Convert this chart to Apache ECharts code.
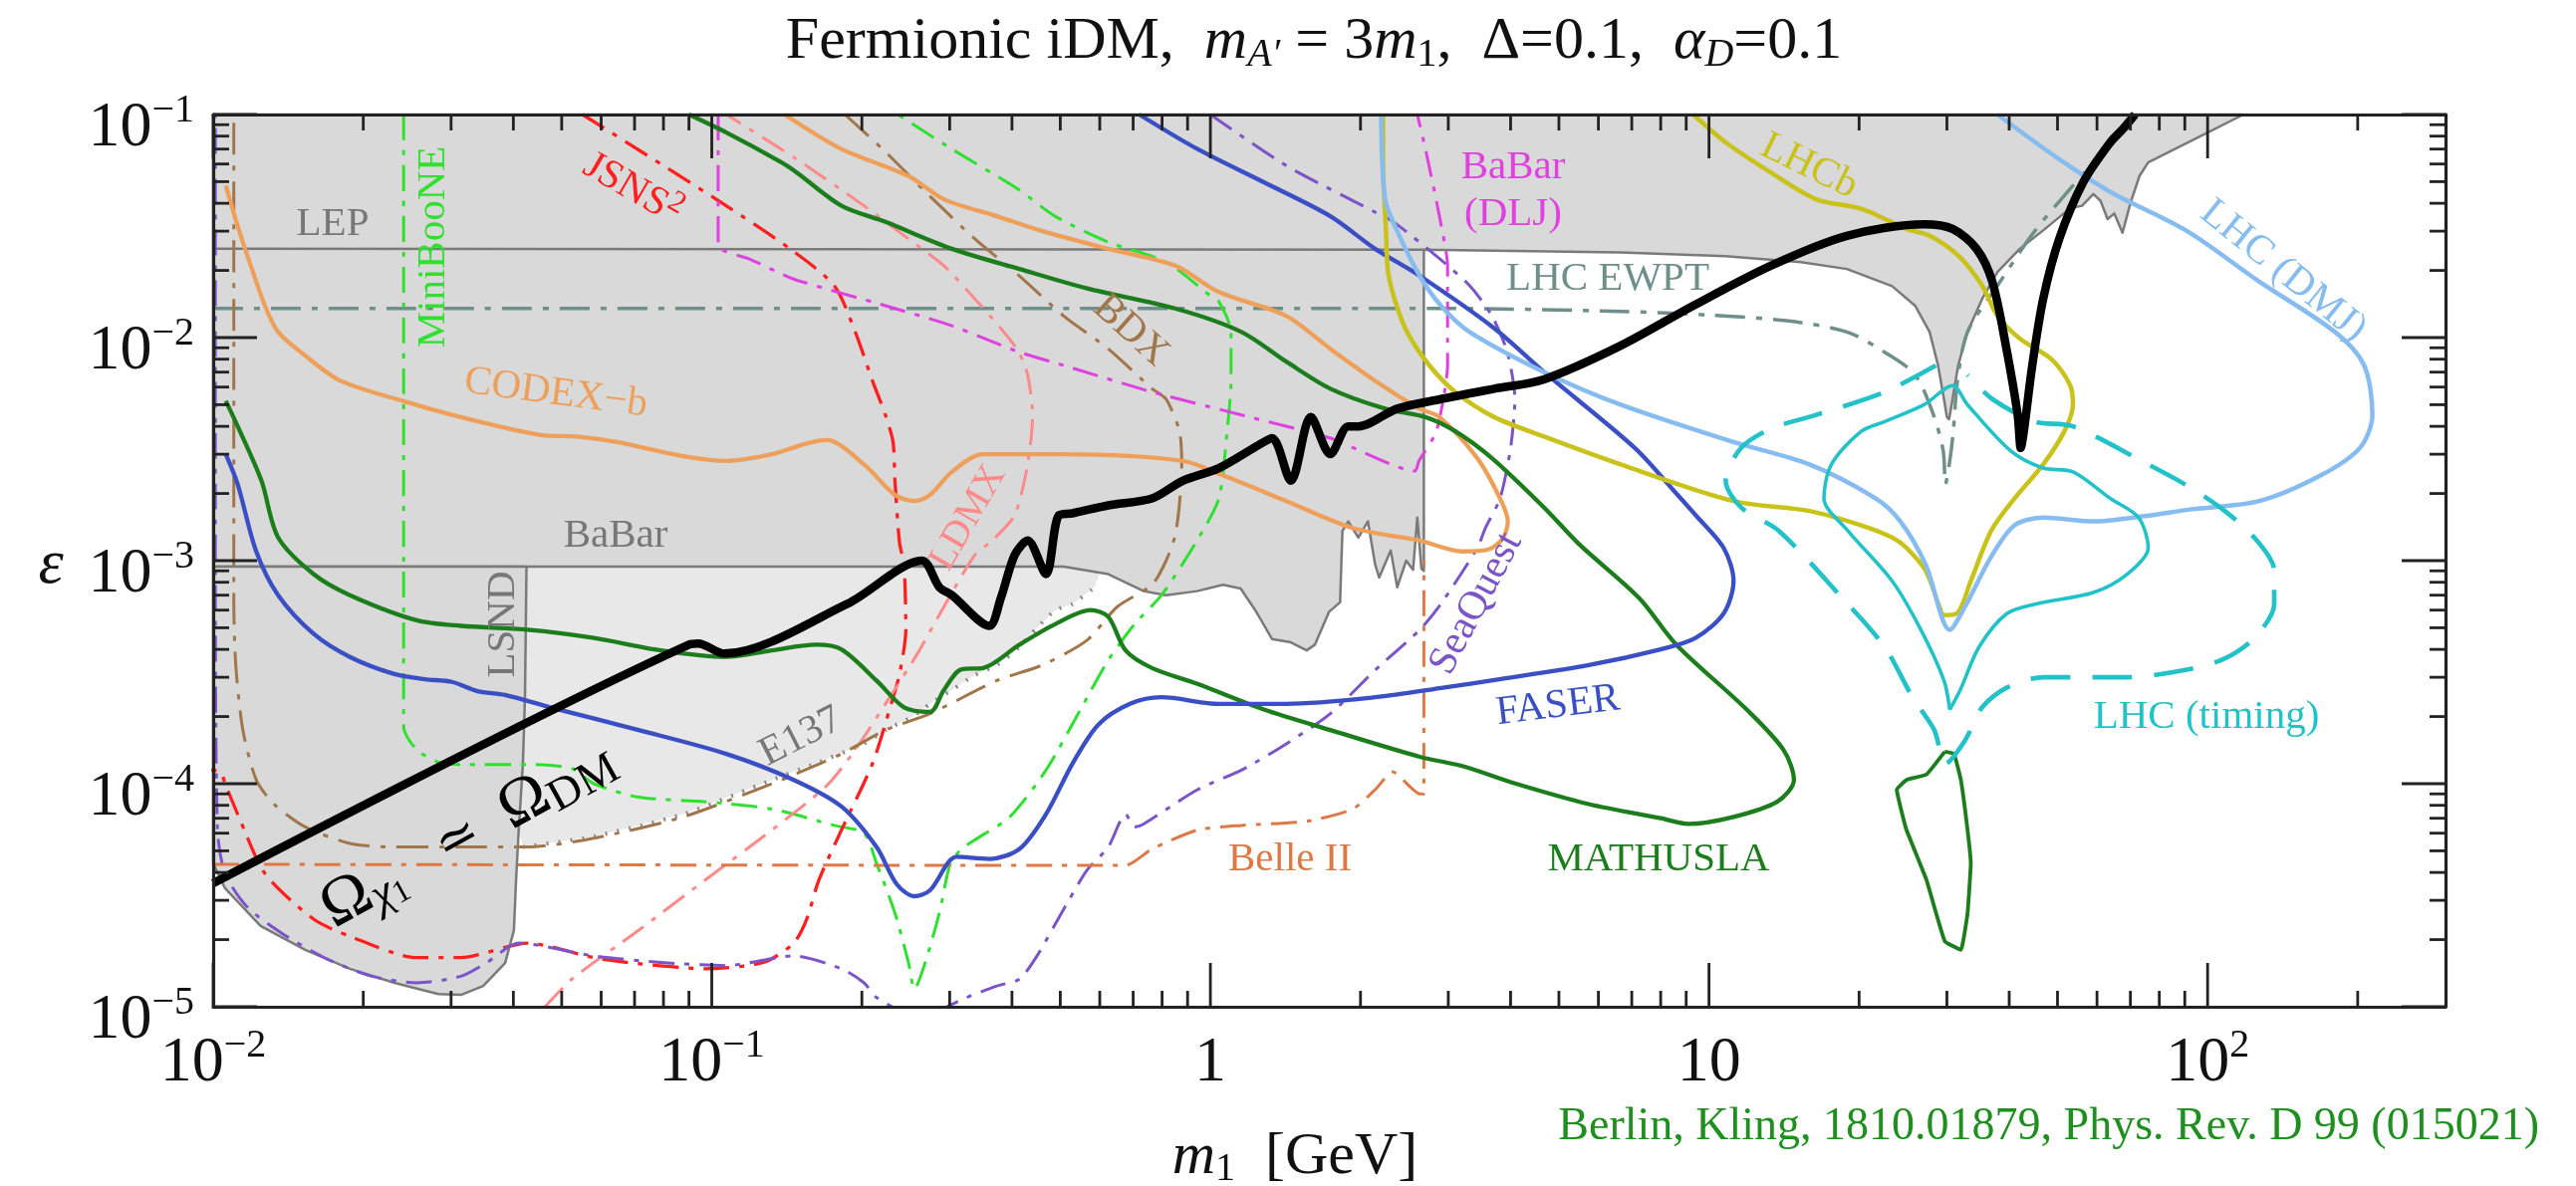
<!DOCTYPE html>
<html><head><meta charset="utf-8">
<script src="https://cdn.jsdelivr.net/npm/echarts@6/dist/echarts.min.js"></script>
<style>html,body{margin:0;padding:0;background:#fff}#c{width:2586px;height:1191px}</style>
</head><body><div id="c"></div>
<script>
// ---------- axis ticks ----------
const X_MAJOR = [0.01, 0.1, 1, 10, 100];
const Y_MAJOR = [1e-5, 1e-4, 1e-3, 1e-2, 1e-1];

// ---------- excluded regions (m1 [GeV], epsilon) ----------
const Z_RIGHT = [[118,0.1],[100,8.3e-2],[76,6.1e-2],[73,5.3e-2],[70,4.0e-2],[67.5,2.95e-2],[65,3.6e-2],[63,3.4e-2],[61,4.1e-2],[59,4.4e-2],[56,3.9e-2],[53,3.8e-2],[46.6,3.0e-2],[42,2.5e-2],[37.9,1.97e-2],[35.3,1.49e-2],[33,1.06e-2],[31.6,7.5e-3],[30.8,5.3e-3],[30.3,4.3e-3]];
const Z_LEFT = [[30.0,4.4e-3],[29.6,5.3e-3],[28.8,7.5e-3],[27.7,1.06e-2],[25.9,1.39e-2],[23.3,1.7e-2],[18.9,2.03e-2],[15.3,2.18e-2],[10.8,2.32e-2],[6.65,2.41e-2]];
const LEP = [[0.01,2.5e-2],[2.68,2.48e-2]];
const BABAR_EDGE = [[2.68,2.48e-2],[2.68,9.0e-4],[2.65,9.2e-4],[2.60,1.56e-3],[2.55,9.1e-4],[2.47,1.0e-3],[2.37,7.6e-4],[2.30,1.11e-3],[2.18,8.4e-4],[2.14,9.6e-4],[2.07,1.5e-3],[1.98,1.27e-3],[1.89,1.5e-3],[1.84,1.36e-3],[1.82,6.5e-4],[1.73,5.9e-4],[1.62,4.2e-4],[1.56,3.96e-4],[1.45,4.3e-4],[1.33,4.45e-4],[1.23,6.0e-4],[1.15,7.5e-4],[1.06,7.8e-4],[0.94,7.3e-4],[0.815,7.0e-4],[0.735,7.3e-4],[0.624,8.7e-4],[0.508,9.4e-4],[0.01,9.4e-4]];
const LSND_EDGE = [[0.0425,9.4e-4],[0.0422,2.44e-4],[0.0418,1.23e-4],[0.041,6.2e-5],[0.0405,3.7e-5],[0.0401,2.2e-5],[0.0385,1.57e-5],[0.0348,1.24e-5],[0.0314,1.13e-5],[0.0283,1.14e-5],[0.0231,1.28e-5],[0.0188,1.48e-5],[0.0153,1.8e-5],[0.01245,2.3e-5],[0.01056,3.4e-5],[0.01,4.4e-5]];
const E137 = [[0.0418,5.2e-5],[0.058,5.8e-5],[0.0877,7.3e-5],[0.132,1.04e-4],[0.161,1.23e-4],[0.202,1.51e-4],[0.223,1.74e-4],[0.253,2.0e-4],[0.274,2.28e-4],[0.303,2.63e-4],[0.337,3.07e-4],[0.373,3.4e-4],[0.414,4.1e-4],[0.449,5.0e-4],[0.489,6.0e-4],[0.529,6.4e-4],[0.586,7.6e-4]];

// ---------- projected sensitivities ----------
const LHC_EWPT = [[0.01,1.35e-2],[3,1.35e-2],[6.65,1.31e-2],[10.1,1.26e-2],[14.3,1.19e-2],[18.9,1.06e-2],[22.5,8.6e-3],[25.9,6.8e-3],[28.2,4.5e-3],[29.5,3.1e-3],[29.8,2.2e-3],[30.4,2.8e-3],[30.9,3.8e-3],[31.5,6.4e-3],[33,1.06e-2],[37.9,1.71e-2],[45,3.0e-2],[53.7,4.8e-2],[63.8,7.5e-2],[71,0.1]];
const MINIBOONE = [[0.0241,0.1],[0.0241,1.8e-4],[0.0256,1.42e-4],[0.0289,1.23e-4],[0.0314,1.22e-4],[0.0427,1.22e-4],[0.0524,1.17e-4],[0.058,1.0e-4],[0.0713,8.7e-5],[0.097,8.3e-5],[0.132,7.7e-5],[0.176,6.5e-5],[0.202,6.0e-5],[0.214,4.4e-5],[0.233,2.63e-5],[0.248,1.58e-5],[0.255,1.2e-5],[0.268,1.58e-5],[0.286,2.63e-5],[0.301,4.4e-5],[0.317,5.1e-5],[0.337,5.6e-5],[0.396,7.1e-5],[0.468,1.15e-4],[0.552,2.2e-4],[0.624,3.58e-4],[0.705,5.2e-4],[0.798,7.0e-4],[0.94,1.23e-3],[1.04,1.9e-3],[1.08,3.8e-3],[1.1,6.4e-3],[1.1,1.06e-2],[1.04,1.45e-2],[1.0,1.54e-2],[0.815,2.18e-2],[0.624,2.68e-2],[0.488,3.5e-2],[0.413,4.6e-2],[0.303,7.0e-2],[0.236,0.1]];
const JSNS2 = [[0.055,0.1],[0.058,9.3e-2],[0.105,4.0e-2],[0.1435,2.5e-2],[0.176,1.71e-2],[0.194,1.06e-2],[0.21,6.4e-3],[0.223,4.5e-3],[0.231,3.4e-3],[0.233,2.28e-3],[0.238,1.2e-3],[0.243,9.6e-4],[0.245,4.9e-4],[0.238,3.1e-4],[0.229,2.28e-4],[0.21,1.23e-4],[0.182,6.2e-5],[0.164,3.7e-5],[0.155,2.47e-5],[0.146,1.93e-5],[0.127,1.58e-5],[0.097,1.48e-5],[0.0713,1.56e-5],[0.058,1.66e-5],[0.0427,1.93e-5],[0.0314,1.66e-5],[0.0256,1.66e-5],[0.0188,2.07e-5],[0.0159,2.47e-5],[0.0127,3.96e-5],[0.0112,7.3e-5],[0.01057,1.0e-4],[0.01035,1.13e-4],[0.0099,1.15e-4]];
const LDMX = [[0.0463,1.0e-5],[0.0524,1.33e-5],[0.0713,2.2e-5],[0.097,3.7e-5],[0.132,6.2e-5],[0.17,9.8e-5],[0.194,1.42e-4],[0.223,2.28e-4],[0.258,3.8e-4],[0.292,6.2e-4],[0.337,1.06e-3],[0.365,1.23e-3],[0.405,1.6e-3],[0.43,2.7e-3],[0.44,4.5e-3],[0.43,6.8e-3],[0.413,8.6e-3],[0.38,1.1e-2],[0.337,1.49e-2],[0.292,2.1e-2],[0.248,2.77e-2],[0.202,3.9e-2],[0.148,6.3e-2],[0.107,0.1]];
const BDX = [[0.185,0.1],[0.223,6.8e-2],[0.274,4.3e-2],[0.337,2.77e-2],[0.414,1.89e-2],[0.508,1.25e-2],[0.624,8.9e-3],[0.764,5.9e-3],[0.815,5.3e-3],[0.867,3.8e-3],[0.876,2.7e-3],[0.867,1.8e-3],[0.85,1.3e-3],[0.815,1.0e-3],[0.764,7.8e-4],[0.65,6.2e-4],[0.566,4.4e-4],[0.46,3.4e-4],[0.373,2.9e-4],[0.274,2.06e-4],[0.223,1.74e-4],[0.182,1.36e-4],[0.148,1.11e-4],[0.132,1.0e-4],[0.0877,7.1e-5],[0.058,5.7e-5],[0.0427,5.2e-5],[0.0314,5.2e-5],[0.0231,5.2e-5],[0.0188,5.4e-5],[0.0153,6.4e-5],[0.01324,8.1e-5],[0.0122,1.04e-4],[0.01147,1.74e-4],[0.0111,3.4e-4],[0.011,6.8e-4],[0.011,0.1]];
const BABAR_DLJ = [[0.103,0.1],[0.103,2.58e-2],[0.119,2.25e-2],[0.146,1.83e-2],[0.223,1.39e-2],[0.303,1.13e-2],[0.414,8.6e-3],[0.508,7.5e-3],[0.764,5.7e-3],[1.154,4.5e-3],[1.74,3.54e-3],[2.57,2.52e-3],[2.62,2.8e-3],[2.84,3.8e-3],[2.99,7.5e-3],[2.99,2.1e-2],[2.88,3.5e-2],[2.7,7e-2],[2.6,0.1]];
const SEAQUEST = [[1.0,0.1],[1.42,5.9e-2],[2.14,3.65e-2],[2.33,3.3e-2],[2.88,2.26e-2],[3.31,1.71e-2],[3.67,1.25e-2],[3.94,8.6e-3],[4.08,5.3e-3],[4.0,3.2e-3],[3.81,1.9e-3],[3.56,1.4e-3],[3.43,1.14e-3],[2.9,6.4e-4],[2.63,4.9e-4],[2.14,3.23e-4],[1.74,2.06e-4],[1.42,1.51e-4],[1.154,1.15e-4],[0.942,9.4e-5],[0.735,6.6e-5],[0.705,6.4e-5],[0.676,7.3e-5],[0.624,5.2e-5],[0.566,4.1e-5],[0.508,2.74e-5],[0.449,1.69e-5],[0.414,1.33e-5],[0.373,1.24e-5],[0.324,1.1e-5],[0.26,9.0e-6],[0.214,1.1e-5],[0.202,1.28e-5],[0.182,1.48e-5],[0.146,1.69e-5],[0.107,1.53e-5],[0.079,1.58e-5],[0.058,1.69e-5],[0.041,1.93e-5],[0.0354,1.58e-5],[0.0314,1.37e-5],[0.0256,1.28e-5],[0.0208,1.37e-5],[0.0169,1.64e-5],[0.0138,2.12e-5],[0.0117,2.8e-5],[0.01056,3.96e-5],[0.0102,6.2e-5],[0.0101,1e-3],[0.0101,0.1]];
const BELLE2 = [[0.01,4.35e-5],[0.676,4.3e-5],[0.764,5.1e-5],[0.942,6.2e-5],[1.154,6.5e-5],[1.57,6.8e-5],[1.93,7.7e-5],[2.14,9.4e-5],[2.32,1.13e-4],[2.63,9.0e-5],[2.68,9.0e-5],[2.68,1.0e-3]];
const CODEXB = [[0.0106,4.8e-2],[0.0112,3.16e-2],[0.0119,2.1e-2],[0.0127,1.39e-2],[0.0135,1.06e-2],[0.0153,8.3e-3],[0.018,6.4e-3],[0.024,5.2e-3],[0.0314,4.4e-3],[0.0454,3.66e-3],[0.0535,3.6e-3],[0.0645,3.4e-3],[0.0876,2.94e-3],[0.107,2.8e-3],[0.132,3.0e-3],[0.155,3.35e-3],[0.17,3.47e-3],[0.202,2.7e-3],[0.233,1.97e-3],[0.255,1.85e-3],[0.274,1.97e-3],[0.303,2.5e-3],[0.35,3.0e-3],[0.508,3.0e-3],[0.88,2.8e-3],[1.064,2.4e-3],[1.42,1.85e-3],[1.93,1.4e-3],[2.63,1.23e-3],[3.2,1.1e-3],[3.6,1.12e-3],[3.85,1.25e-3],[3.95,1.5e-3],[3.81,1.9e-3],[3.43,2.88e-3],[2.88,4.4e-3],[2.63,4.8e-3],[2.14,6.4e-3],[1.74,8.9e-3],[1.42,1.25e-2],[1.04,1.6e-2],[0.85,2.1e-2],[0.624,2.5e-2],[0.46,3.0e-2],[0.373,3.5e-2],[0.292,4.17e-2],[0.248,5.3e-2],[0.182,7.0e-2],[0.14,0.1]];
const MATHUSLA = [[0.0106,5.2e-3],[0.0112,4.0e-3],[0.0125,2.28e-3],[0.0135,1.27e-3],[0.0159,8.7e-4],[0.0188,7.0e-4],[0.0256,5.4e-4],[0.0314,5.1e-4],[0.0427,4.9e-4],[0.058,4.5e-4],[0.079,3.96e-4],[0.107,3.7e-4],[0.132,3.96e-4],[0.162,4.2e-4],[0.182,4.0e-4],[0.214,2.9e-4],[0.243,2.2e-4],[0.274,2.1e-4],[0.292,2.63e-4],[0.317,3.26e-4],[0.35,3.3e-4],[0.414,4.2e-4],[0.489,5.2e-4],[0.575,6.0e-4],[0.624,5.6e-4],[0.676,3.96e-4],[0.764,3.3e-4],[0.942,2.8e-4],[1.28,2.15e-4],[1.74,1.74e-4],[2.63,1.32e-4],[3.2,1.2e-4],[4.1,1.0e-4],[5.74,8.1e-5],[8.0,7.0e-5],[9.1,6.6e-5],[11.2,7.1e-5],[13.7,8.3e-5],[14.8,1.04e-4],[14.1,1.42e-4],[11.9,2.15e-4],[8.6,4.2e-4],[7.24,6.8e-4],[5.5,1.18e-3],[4.67,1.73e-3],[3.67,2.88e-3],[3.1,3.8e-3],[2.7,4.4e-3],[2.24,4.8e-3],[1.74,5.9e-3],[1.42,7.8e-3],[1.154,1.06e-2],[0.85,1.35e-2],[0.566,1.66e-2],[0.414,2.03e-2],[0.303,2.5e-2],[0.223,3.3e-2],[0.182,3.9e-2],[0.148,5.5e-2],[0.138,6.1e-2],[0.107,8.3e-2],[0.09,0.1]];
const MATHUSLA_Z = [[29.7,1.39e-4],[31.0,1.36e-4],[32.0,1.04e-4],[33.0,6.2e-5],[33.5,4.4e-5],[33.0,2.63e-5],[32.0,1.8e-5],[29.7,1.97e-5],[27.3,3.7e-5],[24.9,6.2e-5],[24.2,7.9e-5],[23.8,9.4e-5],[24.9,1.04e-4],[27.3,1.1e-4],[29.7,1.39e-4]];
const FASER = [[0.0106,3.0e-3],[0.0112,2.2e-3],[0.0122,1.1e-3],[0.0135,7.0e-4],[0.0159,4.7e-4],[0.0188,3.7e-4],[0.0231,3.1e-4],[0.0266,2.94e-4],[0.0301,2.86e-4],[0.0339,2.6e-4],[0.0385,2.5e-4],[0.0474,2.2e-4],[0.0713,1.74e-4],[0.107,1.36e-4],[0.146,1.04e-4],[0.182,7.9e-5],[0.214,5.2e-5],[0.235,3.54e-5],[0.255,3.13e-5],[0.274,3.33e-5],[0.31,4.7e-5],[0.36,4.6e-5],[0.414,5.1e-5],[0.468,7.3e-5],[0.529,1.23e-4],[0.596,1.84e-4],[0.69,2.28e-4],[0.798,2.44e-4],[1.04,2.28e-4],[1.42,2.28e-4],[2.14,2.44e-4],[2.95,2.7e-4],[3.8,2.94e-4],[5.74,3.4e-4],[8.0,4.0e-4],[9.4,4.5e-4],[10.7,5.8e-4],[11.2,8.1e-4],[10.7,1.14e-3],[9.4,1.6e-3],[8.5,2.06e-3],[7.1,3.2e-3],[4.67,7.0e-3],[3.71,1.1e-2],[2.63,1.89e-2],[2.14,2.5e-2],[1.74,3.5e-2],[1.28,4.97e-2],[0.942,7.0e-2],[0.72,0.1]];
const LHCB = [[2.22,0.1],[2.22,6e-2],[2.25,3e-2],[2.27,2e-2],[2.34,1.49e-2],[2.48,1.06e-2],[2.75,7.5e-3],[3.1,5.7e-3],[3.71,4.4e-3],[4.67,3.6e-3],[6.65,2.7e-3],[11.2,1.85e-3],[15.9,1.67e-3],[20.2,1.44e-3],[23.3,1.27e-3],[24.9,1.14e-3],[27.2,9.0e-4],[29.0,6.2e-4],[29.6,5.7e-4],[31.4,5.8e-4],[33.5,8.1e-4],[36.8,1.36e-3],[41,1.9e-3],[46.8,2.7e-3],[51.6,3.8e-3],[53.7,5.0e-3],[53,6.1e-3],[48.6,8.0e-3],[42,9.9e-3],[37.9,1.25e-2],[35.3,1.71e-2],[31.7,2.32e-2],[27.7,2.86e-2],[24.9,3.07e-2],[20.2,3.78e-2],[16.4,4.17e-2],[13.3,5.5e-2],[10.8,7.5e-2],[9.3,0.1]];
const LHC_DMJ = [[2.2,0.1],[2.24,4.2e-2],[2.37,3.0e-2],[2.63,1.89e-2],[2.9,1.39e-2],[3.31,1.06e-2],[4.67,7.0e-3],[6.65,5.0e-3],[11.2,3.4e-3],[15.9,2.7e-3],[21.6,1.9e-3],[24.2,1.5e-3],[27.2,9.6e-4],[30.4,4.9e-4],[32.6,6.2e-4],[36.7,1.03e-3],[41,1.44e-3],[46.9,1.56e-3],[59,1.5e-3],[74,1.58e-3],[93,1.7e-3],[127,1.85e-3],[168,2.4e-3],[202,3.2e-3],[214,4.5e-3],[206,7.5e-3],[180,1.06e-2],[127,1.78e-2],[91,3.0e-2],[63.8,4.5e-2],[50.4,6.3e-2],[37.9,0.1]];
const LHC_TIMING_SOLID = [[30.4,2.15e-4],[29.6,2.9e-4],[26.6,4.9e-4],[23.3,8.1e-4],[19.0,1.36e-3],[17.0,1.9e-3],[17.6,2.7e-3],[20.2,3.8e-3],[22.5,4.2e-3],[27.0,5.0e-3],[30.8,6.1e-3],[33,5.0e-3],[40.3,3.1e-3],[46.8,2.6e-3],[53.7,2.5e-3],[63.8,1.9e-3],[72.7,1.56e-3],[76,1.14e-3],[69,8.7e-4],[59,7.2e-4],[45.3,6.4e-4],[39.6,5.8e-4],[34.8,4.1e-4],[31.9,2.63e-4],[30.4,2.15e-4]];
const LHC_TIMING_DASHED = [[28.5,7.5e-3],[22.5,5.7e-3],[16.4,4.5e-3],[13.3,3.9e-3],[11.6,3.2e-3],[10.8,2.28e-3],[11.6,1.73e-3],[13.8,1.36e-3],[18.5,6.8e-4],[22.5,4.1e-4],[25.6,2.44e-4],[28.3,1.74e-4],[29.8,1.23e-4],[32.6,1.56e-4],[35.3,2.2e-4],[39.6,2.7e-4],[46.9,3.0e-4],[69,3.0e-4],[88,3.2e-4],[107,3.6e-4],[124,4.5e-4],[136,6.4e-4],[136,9.0e-4],[124,1.27e-3],[106,1.73e-3],[90,2.2e-3],[76,2.7e-3],[53.7,4.0e-3],[45,4.2e-3],[37,5.3e-3],[33,6.8e-3]];
const RELIC = [[0.01,3.58e-5],[0.09,4.2e-4],[0.094,4.25e-4],[0.106,3.83e-4],[0.187,6.4e-4],[0.264,1.0e-3],[0.286,7.6e-4],[0.303,7.0e-4],[0.36,5.1e-4],[0.38,6.8e-4],[0.405,1.06e-3],[0.43,1.23e-3],[0.468,8.7e-4],[0.497,1.6e-3],[0.529,1.63e-3],[0.624,1.77e-3],[0.764,1.9e-3],[0.88,2.28e-3],[1.04,2.6e-3],[1.25,3.3e-3],[1.33,3.54e-3],[1.45,2.28e-3],[1.59,4.4e-3],[1.74,3.0e-3],[1.89,4.0e-3],[1.98,4.0e-3],[2.37,4.8e-3],[2.9,5.3e-3],[3.71,5.9e-3],[4.67,6.5e-3],[6.65,9.2e-3],[9.3,1.39e-2],[13.3,2.1e-2],[18.9,2.86e-2],[27.0,3.22e-2],[30.8,3.07e-2],[34.4,2.5e-2],[37,1.78e-2],[39.5,8.9e-3],[41.6,4.5e-3],[42.2,3.2e-3],[42.8,3.8e-3],[44.5,7.5e-3],[46.8,1.49e-2],[50.4,2.77e-2],[56.3,4.97e-2],[63.8,7.5e-2],[67.6,8.6e-2],[71.5,0.1]];

// ---------- helpers ----------
const SERIF = "'Liberation Serif','DejaVu Serif',serif";
const DD = [26, 10, 5, 10];
function line(name, data, color, width, dash, z, smooth) {
  return { type: 'line', name, data, showSymbol: false, symbol: 'none', silent: true, z: z || 3,
    smooth: smooth === undefined ? 0.3 : smooth, clip: true, animation: false,
    lineStyle: { color, width, type: dash || 'solid', cap: 'butt', join: 'round' } };
}
function poly(name, pts, fill, stroke, z) {
  return { type: 'custom', name, z: z || 1, silent: true, data: [[1, 1e-3]], animation: false,
    renderItem: (p, api) => ({ type: 'polygon', shape: { points: pts.map(q => api.coord(q)) },
      style: { fill, stroke: stroke || null, lineWidth: 2.5, lineJoin: 'round' } }) };
}
function minorTicks(lo, hi) {
  const out = [];
  for (let d = Math.floor(Math.log10(lo)); d <= Math.ceil(Math.log10(hi)); d++)
    for (let k = 2; k <= 9; k++) { const v = k * Math.pow(10, d); if (v > lo * 1.0001 && v < hi * 0.9999) out.push(v); }
  return out;
}
const xTickData = X_MAJOR.map(v => [v, 1e-3, 44]).concat(minorTicks(0.01, 300).map(v => [v, 1e-3, 16]));
const yTickData = Y_MAJOR.map(v => [1, v, 44]).concat(minorTicks(1e-5, 0.1).map(v => [1, v, 16]));
const TST = { stroke: '#222', lineWidth: 2.8 };

function fmt(v) {
  const l = Math.log10(v), e = Math.round(l);
  if (Math.abs(l - e) > 1e-6) return '';
  if (e === 0) return '{b|1}';
  if (e === 1) return '{b|10}';
  return '{b|10}{s|' + (e < 0 ? '\u2212' + (-e) : e) + '}';
}
const richTick = {
  b: { fontFamily: SERIF, fontSize: 64, lineHeight: 70, verticalAlign: 'bottom', color: '#111' },
  s: { fontFamily: SERIF, fontSize: 40, lineHeight: 26, verticalAlign: 'top', color: '#111' }
};
const frame = { show: true, lineStyle: { color: '#222', width: 3.2 } };

const upperRegion = [[0.01, 0.1]].concat(Z_RIGHT, Z_LEFT, BABAR_EDGE);
const lsndRegion = [[0.01, 9.4e-4]].concat(LSND_EDGE);
const e137Region = [[0.0425, 9.4e-4], [0.508, 9.4e-4], [0.6, 8.9e-4]].concat(E137.slice().reverse(), [[0.041, 6.2e-5], [0.0418, 1.23e-4], [0.0422, 2.44e-4]]);

const series = [
  poly('e137', e137Region, '#e8e8e8', null, 1),
  poly('upper', upperRegion, '#d9d9d9', '#7a7a7a', 1),
  poly('lsnd', lsndRegion, '#d9d9d9', '#7a7a7a', 1),
  line('LEP', LEP, '#7a7a7a', 2.5, 'solid', 2, false),
  line('E137', E137, '#8a8a8a', 4, [2, 10], 2, 0.2),
  line('LHC EWPT', LHC_EWPT, '#6f8f8a', 3.5, [30, 11, 6, 11], 3, 0.3),
  line('MiniBooNE', MINIBOONE, '#2fe02f', 3, DD, 3, 0.25),
  line('JSNS2', JSNS2, '#ff1f1f', 3.3, DD, 3, 0.25),
  line('LDMX', LDMX, '#ff8a8a', 3, DD, 3, 0.25),
  line('BDX', BDX, '#a0764a', 3, [32, 11, 5, 11], 3, 0.25),
  line('BaBar DLJ', BABAR_DLJ, '#e040e0', 3, DD, 3, 0.2),
  line('SeaQuest', SEAQUEST, '#7b55c7', 3, DD, 3, 0.25),
  line('Belle II', BELLE2, '#de7845', 3, DD, 3, 0.2),
  line('CODEX-b', CODEXB, '#eea05a', 4.3, 'solid', 3, 0.3),
  line('MATHUSLA', MATHUSLA, '#1c7d1c', 4.3, 'solid', 3, 0.3),
  line('MATHUSLA Z', MATHUSLA_Z, '#1c7d1c', 3.8, 'solid', 3, 0.1),
  line('FASER', FASER, '#3b4fc4', 4.3, 'solid', 3, 0.3),
  line('LHCb', LHCB, '#c8c21a', 4.5, 'solid', 3, 0.3),
  line('LHC DMJ', LHC_DMJ, '#86bcef', 4.5, 'solid', 3, 0.3),
  line('LHC timing solid', LHC_TIMING_SOLID, '#22c2c8', 3.6, 'solid', 3, 0.3),
  line('LHC timing dashed', LHC_TIMING_DASHED, '#22c2c8', 4.6, [40, 22], 3, 0.3),
  line('relic', RELIC, '#000', 8.5, 'solid', 6, 0.3),
  { type: 'custom', z: 8, silent: true, data: xTickData, animation: false,
    renderItem: (p, api) => { const v = api.value(0), L = api.value(2); const b = api.coord([v, 1e-5]), t = api.coord([v, 0.1]);
      return { type: 'group', children: [
        { type: 'line', shape: { x1: b[0], y1: b[1], x2: b[0], y2: b[1] - L }, style: TST },
        { type: 'line', shape: { x1: t[0], y1: t[1], x2: t[0], y2: t[1] + L }, style: TST }] }; } },
  { type: 'custom', z: 8, silent: true, data: yTickData, animation: false,
    renderItem: (p, api) => { const v = api.value(1), L = api.value(2); const l = api.coord([0.01, v]), r = api.coord([300, v]);
      return { type: 'group', children: [
        { type: 'line', shape: { x1: l[0], y1: l[1], x2: l[0] + L, y2: l[1] }, style: TST },
        { type: 'line', shape: { x1: r[0], y1: r[1], x2: r[0] - L, y2: r[1] }, style: TST }] }; } }
];

// ---------- labels ----------
function lbl(text, x, y, color, rot, size) {
  return { type: 'text', x, y, rotation: (rot || 0) * Math.PI / 180, z: 100, silent: true,
    style: { text, fill: color, fontFamily: SERIF, fontSize: size || 41, align: 'center', verticalAlign: 'middle', lineHeight: 47 } };
}
const GRAY = '#777';
const graphics = [
  lbl('LEP', 334, 225, GRAY), lbl('BaBar', 618, 538, GRAY), lbl('LSND', 505, 627, GRAY, 90),
  lbl('E137', 804, 740, GRAY, 27),
  lbl('MiniBooNE', 435, 248, '#2fe02f', 90),
  { type: 'text', x: 636, y: 188, rotation: -30 * Math.PI / 180, z: 100, silent: true,
    style: { text: '{a|JSNS}{s|2}', align: 'center', verticalAlign: 'middle', fill: '#ff1f1f',
      rich: { a: { fontFamily: SERIF, fontSize: 41, fill: '#ff1f1f', lineHeight: 46, verticalAlign: 'bottom' },
              s: { fontFamily: SERIF, fontSize: 31, fill: '#ff1f1f', lineHeight: 38, verticalAlign: 'top' } } } },
  lbl('CODEX\u2212b', 558, 395, '#eea05a', -7.5),
  lbl('LDMX', 972, 520, '#ff8a8a', 60, 39),
  lbl('BDX', 1135, 332, '#a0764a', -42),
  lbl('BaBar\n(DLJ)', 1519, 192, '#e040e0'),
  lbl('SeaQuest', 1482, 606, '#7b55c7', 62),
  lbl('LHC EWPT', 1614, 280, '#6f8f8a'),
  lbl('LHCb', 1816, 167, '#c8c21a', -26),
  lbl('LHC (DMJ)', 2292, 272, '#86bcef', -39),
  lbl('FASER', 1564, 709, '#3b4fc4', 7),
  lbl('MATHUSLA', 1665, 863, '#1c7d1c'),
  lbl('Belle II', 1295, 863, '#de7845'),
  lbl('LHC (timing)', 2215, 720, '#22c2c8'),
  { type: 'text', x: 470, y: 838, rotation: 29 * Math.PI / 180, z: 100, silent: true,
    style: { text: '{o|\u03A9}{si|\u03C7}{ss|1}{sp|   }{eq|\u2243}{sp|  }{o|\u03A9}{s|DM}', align: 'center', verticalAlign: 'middle',
      rich: { o: { fontFamily: SERIF, fontSize: 66, lineHeight: 70, fill: '#000' },
              sp: { fontFamily: SERIF, fontSize: 60, lineHeight: 70, fill: '#000' },
              eq: { fontFamily: "'DejaVu Serif',serif", fontSize: 52, lineHeight: 70, fill: '#000' },
              si: { fontFamily: SERIF, fontSize: 46, fontStyle: 'italic', lineHeight: 44, verticalAlign: 'bottom', fill: '#000' },
              ss: { fontFamily: SERIF, fontSize: 32, lineHeight: 32, verticalAlign: 'bottom', fill: '#000' },
              s: { fontFamily: SERIF, fontSize: 46, lineHeight: 44, verticalAlign: 'bottom', fill: '#000' } } } },
  { type: 'text', x: 1319, y: 42, z: 100, silent: true,
    style: { text: '{n|Fermionic iDM,  }{i|m}{si|A\u2032}{n| = 3}{i|m}{s|1}{n|,  \u0394=0.1,  }{i|\u03B1}{si|D}{n|=0.1}',
      align: 'center', verticalAlign: 'middle',
      rich: { n: { fontFamily: SERIF, fontSize: 60, lineHeight: 66, fill: '#111' },
              i: { fontFamily: SERIF, fontSize: 60, fontStyle: 'italic', lineHeight: 66, fill: '#111' },
              si: { fontFamily: SERIF, fontSize: 40, fontStyle: 'italic', lineHeight: 40, verticalAlign: 'bottom', fill: '#111' },
              s: { fontFamily: SERIF, fontSize: 40, lineHeight: 40, verticalAlign: 'bottom', fill: '#111' } } } },
  { type: 'text', x: 1300, y: 1162, z: 100, silent: true,
    style: { text: '{i|m}{s|1}{n|  [GeV]}', align: 'center', verticalAlign: 'middle',
      rich: { n: { fontFamily: SERIF, fontSize: 60, lineHeight: 64, fill: '#111' },
              i: { fontFamily: SERIF, fontSize: 60, fontStyle: 'italic', lineHeight: 64, fill: '#111' },
              s: { fontFamily: SERIF, fontSize: 40, lineHeight: 40, verticalAlign: 'bottom', fill: '#111' } } } },
  { type: 'text', x: 51, y: 568, z: 100, silent: true,
    style: { text: '\u03B5', fill: '#111', fontFamily: SERIF, fontSize: 64, fontStyle: 'italic', align: 'center', verticalAlign: 'middle' } },
  { type: 'text', x: 2549, y: 1132, z: 100, silent: true,
    style: { text: 'Berlin, Kling, 1810.01879, Phys. Rev. D 99 (015021)', fill: '#1f8f1f', fontFamily: SERIF, fontSize: 46, align: 'right', verticalAlign: 'middle' } }
];

const chart = echarts.init(document.getElementById('c'));
chart.setOption({
  backgroundColor: '#fff',
  animation: false,
  grid: { left: 214, right: 131, top: 115, bottom: 180, containLabel: false },
  xAxis: [
    { type: 'log', logBase: 10, min: 0.01, max: 300, position: 'bottom', z: 10, axisLine: frame,
      axisTick: { show: false }, minorTick: { show: false }, splitLine: { show: false },
      axisLabel: { formatter: fmt, rich: richTick, margin: 19, hideOverlap: false } },
    { type: 'log', logBase: 10, min: 0.01, max: 300, position: 'top', z: 10, axisLine: frame,
      axisTick: { show: false }, axisLabel: { show: false }, splitLine: { show: false } }
  ],
  yAxis: [
    { type: 'log', logBase: 10, min: 1e-5, max: 0.1, position: 'left', z: 10, axisLine: frame,
      axisTick: { show: false }, minorTick: { show: false }, splitLine: { show: false },
      axisLabel: { formatter: fmt, rich: richTick, margin: 19, padding: [22, 0, 0, 0] } },
    { type: 'log', logBase: 10, min: 1e-5, max: 0.1, position: 'right', z: 10, axisLine: frame,
      axisTick: { show: false }, axisLabel: { show: false }, splitLine: { show: false } }
  ],
  series,
  graphic: graphics
});
</script></body></html>
